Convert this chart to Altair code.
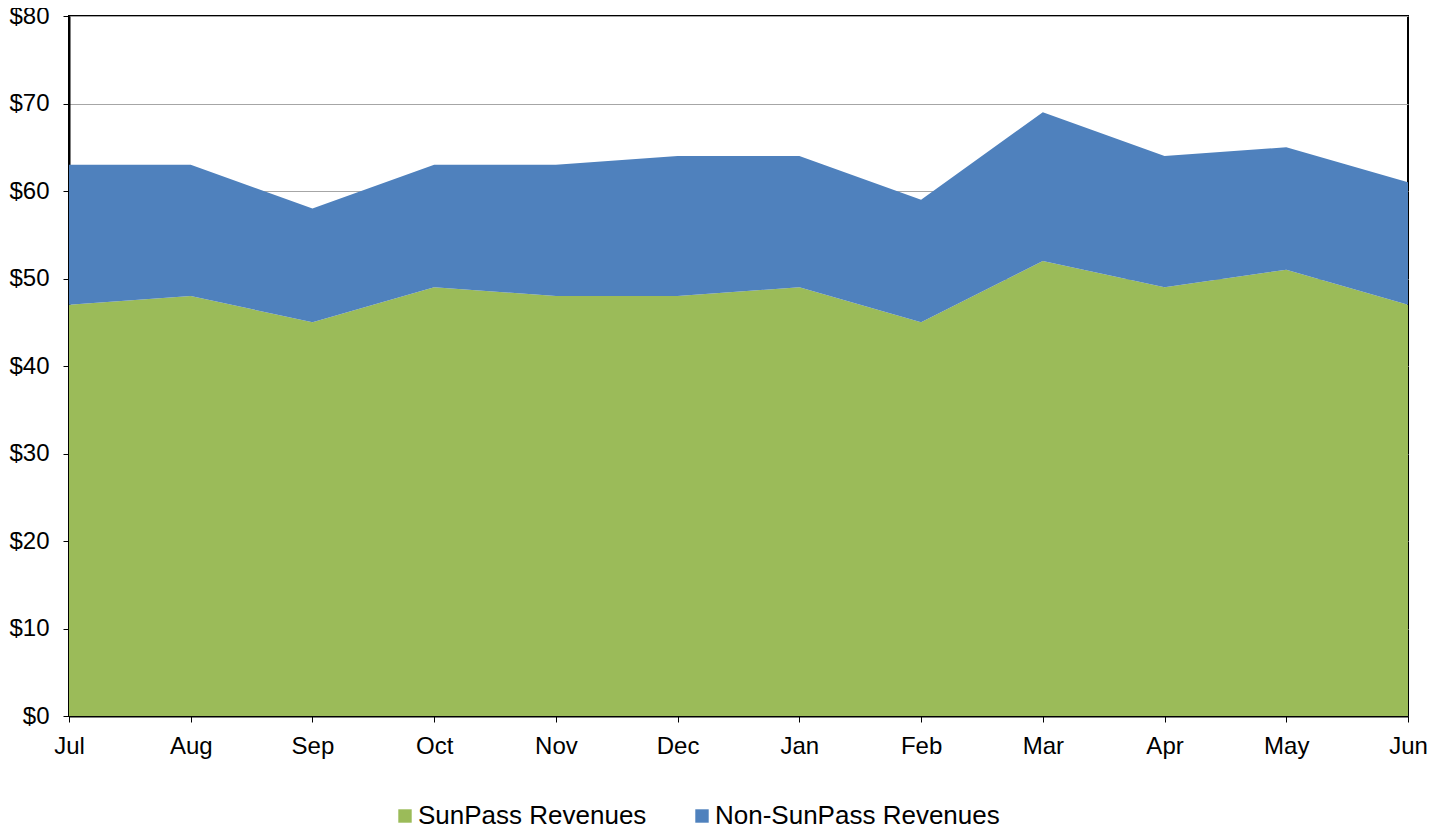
import altair as alt
import pandas as pd

months = ["Jul", "Aug", "Sep", "Oct", "Nov", "Dec", "Jan", "Feb", "Mar", "Apr", "May", "Jun"]
sunpass = [47, 48, 45, 49, 48, 48, 49, 45, 52, 49, 51, 47]
non_sunpass = [16, 15, 13, 14, 15, 16, 15, 14, 17, 15, 14, 14]
series = ["SunPass Revenues", "Non-SunPass Revenues"]
colors = ["#9BBB59", "#4F81BD"]

rows = []
for i, m in enumerate(months):
    rows.append({"month": m, "series": series[0], "value": sunpass[i], "ord": 0})
    rows.append({"month": m, "series": series[1], "value": non_sunpass[i], "ord": 1})
df = pd.DataFrame(rows)

FONT = "Liberation Sans"

chart = alt.Chart(df).mark_area(opacity=1).encode(
    x=alt.X("month:N", sort=months, title=None,
            scale=alt.Scale(type="point", padding=0),
            axis=alt.Axis(labelAngle=0, labelFontSize=24, labelFont=FONT, labelColor="black",
                          tickColor="black", tickSize=6, domainColor="black", domainWidth=2,
                          labelPadding=12, grid=False)),
    y=alt.Y("value:Q", stack="zero", title=None,
            scale=alt.Scale(domain=[0, 80], nice=False),
            axis=alt.Axis(values=list(range(0, 81, 10)), labelExpr="'$' + datum.value",
                          labelFontSize=24, labelFont=FONT, labelColor="black",
                          tickColor="black", tickSize=6, domainColor="black", domainWidth=2,
                          labelPadding=14, gridColor="#A6A6A6", gridWidth=1)),
    color=alt.Color("series:N", sort=series,
                    scale=alt.Scale(domain=series, range=colors),
                    legend=alt.Legend(title=None, orient="none", direction="horizontal",
                                      legendX=323, legendY=787, symbolType="square",
                                      symbolSize=180, symbolStrokeWidth=0,
                                      labelFontSize=26, labelFont=FONT, labelColor="black",
                                      labelLimit=600, columnPadding=42, labelOffset=0)),
    order=alt.Order("ord:Q", sort="ascending"),
).properties(
    width=1339, height=700,
    autosize=alt.AutoSizeParams(type="none"),
    padding={"left": 61, "top": 8, "right": 32, "bottom": 111},
).configure_view(
    stroke="black", strokeWidth=2
)

chart.save("out.html", embed_options={"renderer": "svg", "actions": False})
